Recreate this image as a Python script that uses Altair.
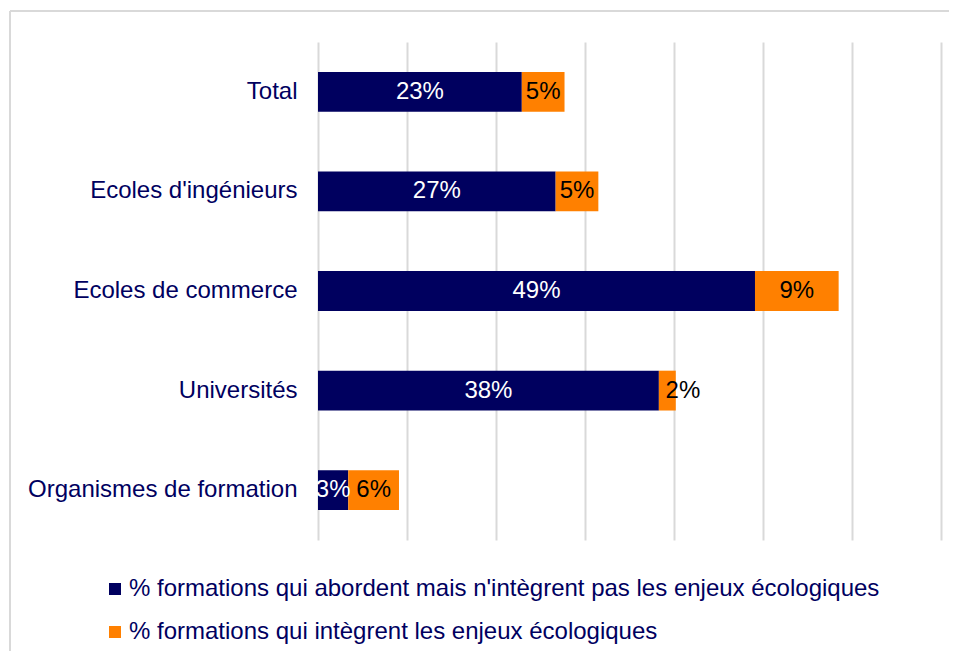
import altair as alt
import pandas as pd

categories = ["Total", "Ecoles d'ingénieurs", "Ecoles de commerce", "Universités", "Organismes de formation"]
series = [
    "% formations qui abordent mais n'intègrent pas les enjeux écologiques",
    "% formations qui intègrent les enjeux écologiques",
]
abordent = [22.9, 26.7, 49.1, 38.3, 3.4]
integrent = [4.8, 4.8, 9.4, 1.9, 5.7]
x_ticks = [0, 10, 20, 30, 40, 50, 60, 70]

NAVY = "#00005f"
ORANGE = "#ff8000"
FONT = "Liberation Sans"
FS = 24

rows = []
for i, c in enumerate(categories):
    rows.append({"cat": c, "series": series[0], "order": 0, "value": abordent[i]})
    rows.append({"cat": c, "series": series[1], "order": 1, "value": integrent[i]})
df = pd.DataFrame(rows)

base = alt.Chart(df).transform_stack(
    stack="value", groupby=["cat"], as_=["x0", "x1"], sort=[alt.SortField("order")]
).transform_calculate(
    mid="datum.value < 2.5 ? datum.x1 + 0.8 : (datum.x0 + datum.x1) / 2",
    label="format(datum.value, '.0f') + '%'",
)

y_enc = alt.Y(
    "cat:N",
    sort=categories,
    title=None,
    scale=alt.Scale(paddingInner=0.6, paddingOuter=0.3),
    axis=alt.Axis(
        domain=False, ticks=False, labelFontSize=FS, labelColor=NAVY,
        labelPadding=21, labelFont=FONT, grid=False, labelLimit=400,
    ),
)

x_scale = alt.Scale(domain=[0, 70], nice=False, zero=True)

bars = base.mark_bar().encode(
    x=alt.X(
        "x0:Q", scale=x_scale, title=None,
        axis=alt.Axis(values=x_ticks, labels=False, ticks=False, domain=False,
                      grid=True, gridColor="#d9d9d9", gridWidth=2),
    ),
    x2="x1:Q",
    y=y_enc,
    color=alt.Color(
        "series:N",
        scale=alt.Scale(domain=series, range=[NAVY, ORANGE]),
        legend=alt.Legend(
            title=None, orient="none", legendX=-215, legendY=535,
            direction="vertical", symbolType="square", symbolSize=144,
            symbolStrokeWidth=0, labelFontSize=FS, labelColor=NAVY, labelFont=FONT,
            rowPadding=19, labelOffset=2, padding=0, labelLimit=900,
        ),
    ),
)

labels = base.mark_text(font=FONT, fontSize=FS, baseline="middle", align="center").encode(
    x=alt.X("mid:Q", scale=x_scale),
    y=alt.Y("cat:N", sort=categories),
    text="label:N",
    color=alt.condition("datum.order == 0", alt.value("white"), alt.value("black")),
)

frame_df = pd.DataFrame({"a": [0]})
frame_top = alt.Chart(frame_df).mark_rule(color="#d9d9d9", strokeWidth=2).encode(
    x=alt.value(-308), x2=alt.value(660), y=alt.value(-31)
)
frame_left = alt.Chart(frame_df).mark_rule(color="#d9d9d9", strokeWidth=2).encode(
    x=alt.value(-308), y=alt.value(-31), y2=alt.value(640)
)

chart = alt.layer(frame_top, frame_left, bars, labels).properties(
    width=623, height=498,
    padding={"left": 310, "top": 34, "right": 8, "bottom": 111},
    autosize=alt.AutoSizeParams(type="none"),
).configure(font=FONT).configure_view(stroke=None)

chart.save("out.html", embed_options={"renderer": "svg", "actions": False})
